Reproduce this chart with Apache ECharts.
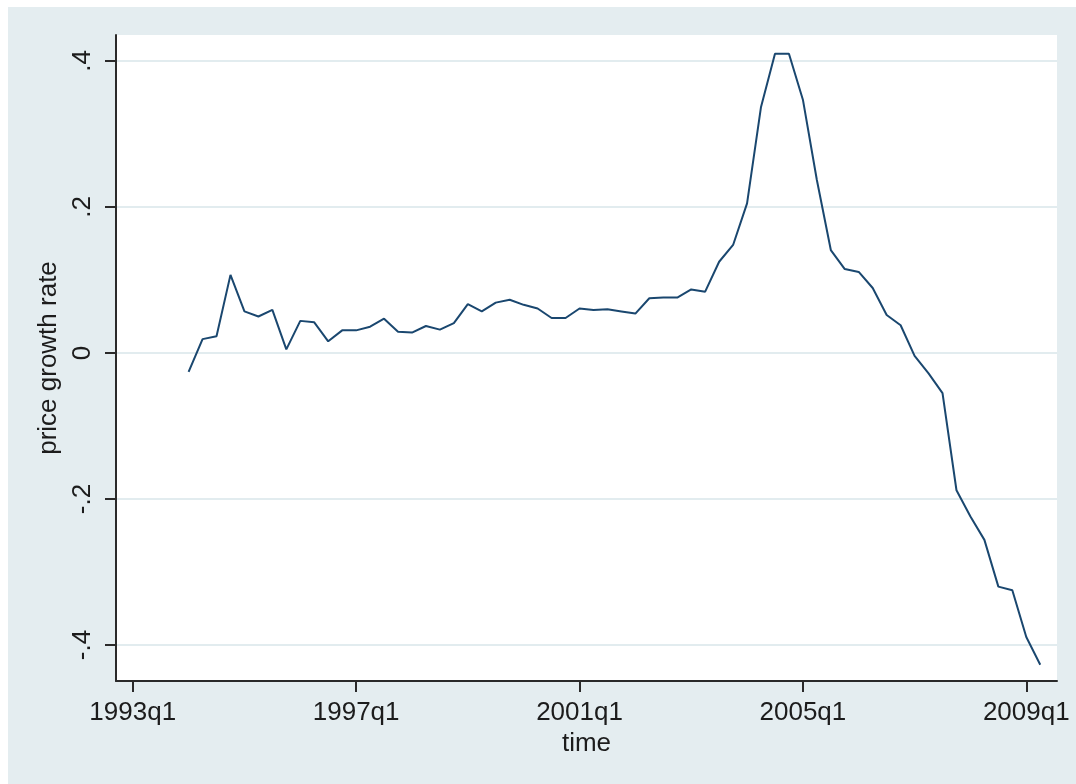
<!DOCTYPE html>
<html>
<head>
<meta charset="utf-8">
<script src="https://cdn.jsdelivr.net/npm/echarts@6/dist/echarts.min.js"></script>
<style>
    html, body { margin: 0; padding: 0; background: #fff; }
    #chart { width: 1076px; height: 784px; }
</style>
</head>
<body>
<div id="chart"></div>
<script>
    // quarter index counted from 1993q1 (= 0), series starts 1994q1
    var firstQuarter = 4;
    var growth = [
        -0.026, 0.019, 0.023, 0.107, 0.057, 0.050, 0.059, 0.005,
        0.044, 0.042, 0.016, 0.031, 0.031, 0.036, 0.047, 0.029,
        0.028, 0.037, 0.032, 0.041, 0.067, 0.057, 0.069, 0.073,
        0.066, 0.061, 0.048, 0.048, 0.061, 0.059, 0.060, 0.057,
        0.054, 0.075, 0.076, 0.076, 0.087, 0.084, 0.125, 0.148,
        0.205, 0.337, 0.410, 0.410, 0.347, 0.237, 0.141, 0.115,
        0.111, 0.089, 0.052, 0.038, -0.004, -0.028, -0.055, -0.188,
        -0.224, -0.256, -0.320, -0.325, -0.389, -0.427
    ];
    var xTickValues = [0, 16, 32, 48, 64];
    var xTickLabels = ['1993q1', '1997q1', '2001q1', '2005q1', '2009q1'];
    var yTickValues = [-0.4, -0.2, 0, 0.2, 0.4];
    var yTickLabels = ['-.4', '-.2', '0', '.2', '.4'];

    var seriesData = growth.map(function (v, i) {
        return [firstQuarter + i, v];
    });

    var font = "'Liberation Sans', Arial, sans-serif";
    var textColor = '#1c1c1c';

    var myChart = echarts.init(document.getElementById('chart'));

    var option = {
        animation: false,
        backgroundColor: '#e4edf0',
        // white strips at top / left like the exported picture
        graphic: [
            {type: 'rect', shape: {x: 0, y: 0, width: 1076, height: 7}, style: {fill: '#fff'}, silent: true},
            {type: 'rect', shape: {x: 0, y: 0, width: 8, height: 784}, style: {fill: '#fff'}, silent: true}
        ],
        grid: {
            left: 116,
            top: 35,
            right: 19,
            bottom: 103,
            show: true,
            backgroundColor: '#fff',
            borderWidth: 0
        },
        xAxis: {
            type: 'value',
            min: -1.2,
            max: 66.2,
            name: 'time',
            nameLocation: 'middle',
            nameGap: 47,
            nameTextStyle: {fontFamily: font, fontSize: 26, color: textColor},
            axisLine: {onZero: false, lineStyle: {color: '#2a2a2a', width: 2}},
            axisTick: {customValues: xTickValues, length: 11, lineStyle: {color: '#2a2a2a', width: 2}},
            axisLabel: {
                customValues: xTickValues,
                margin: 19,
                fontFamily: font,
                fontSize: 26,
                color: textColor,
                formatter: function (v) {
                    return xTickLabels[xTickValues.indexOf(v)];
                }
            },
            splitLine: {show: false}
        },
        yAxis: {
            type: 'value',
            min: -0.4493,
            max: 0.4356,
            name: 'price growth rate',
            nameLocation: 'middle',
            nameGap: 49,
            nameTextStyle: {fontFamily: font, fontSize: 26, color: textColor},
            axisLine: {show: true, onZero: false, lineStyle: {color: '#2a2a2a', width: 2}},
            axisTick: {show: true, customValues: yTickValues, length: 11, lineStyle: {color: '#2a2a2a', width: 2}},
            axisLabel: {
                customValues: yTickValues,
                rotate: 90,
                margin: 20,
                fontFamily: font,
                fontSize: 26,
                color: textColor,
                formatter: function (v) {
                    return yTickLabels[yTickValues.indexOf(v)];
                }
            },
            splitLine: {show: true, lineStyle: {color: '#e2ecef', width: 2}}
        },
        series: [
            {
                name: 'price growth rate',
                type: 'line',
                data: seriesData,
                showSymbol: false,
                lineStyle: {color: '#1a476f', width: 2}
            }
        ]
    };

    myChart.setOption(option);
</script>
</body>
</html>
